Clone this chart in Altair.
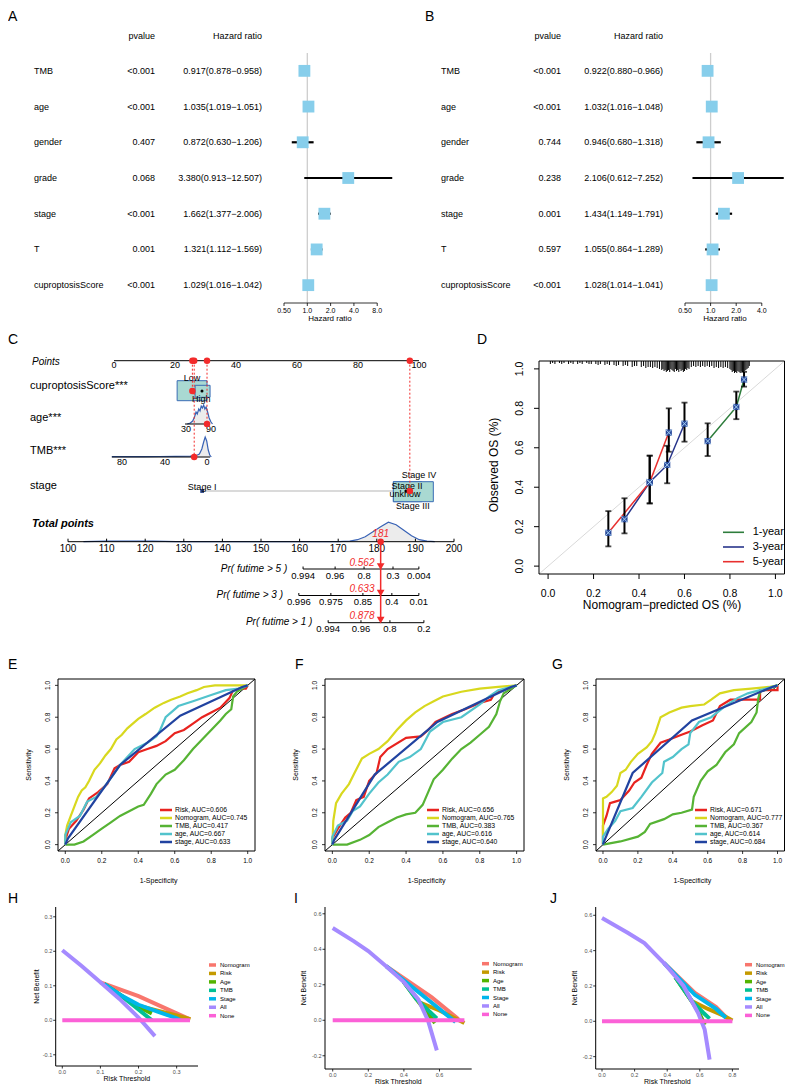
import altair as alt
import pandas as pd

FONT = "Liberation Sans"
RED = "#F22B2B"
OFF = 8  # page margin: reference pixel -> canvas pixel

# ======================= A / B : forest plots =======================
forest_vars = ["TMB", "age", "gender", "grade", "stage", "T", "cuproptosisScore"]
A_pvalue = ["<0.001", "<0.001", "0.407", "0.068", "<0.001", "0.001", "<0.001"]
A_hr = [0.917, 1.035, 0.872, 3.380, 1.662, 1.321, 1.029]
A_lo = [0.878, 1.019, 0.630, 0.913, 1.377, 1.112, 1.016]
A_hi = [0.958, 1.051, 1.206, 12.507, 2.006, 1.569, 1.042]
A_ticks = [0.5, 1, 2, 4, 8]
A_tick_labels = ["0.50", "1.0", "2.0", "4.0", "8.0"]
B_pvalue = ["<0.001", "<0.001", "0.744", "0.238", "0.001", "0.597", "<0.001"]
B_hr = [0.922, 1.032, 0.946, 2.106, 1.434, 1.055, 1.028]
B_lo = [0.880, 1.016, 0.680, 0.612, 1.149, 0.864, 1.014]
B_hi = [0.966, 1.048, 1.318, 7.252, 1.791, 1.289, 1.041]
B_ticks = [0.5, 1, 2, 4]
B_tick_labels = ["0.50", "1.0", "2.0", "4.0"]

# ======================= C : nomogram =======================
points_ticks = [0, 20, 40, 60, 80, 100]
nomo_vars = ["cuproptosisScore***", "age***", "TMB***", "stage"]
nomo_var_y = [386, 418, 451, 486]
cupro_box_x1 = [20.7, 26.6]
cupro_box_x2 = [30.5, 31.5]
cupro_box_y1 = [380.7, 385.3]
cupro_box_y2 = [400.7, 397.3]
cupro_levels = ["Low", "High"]
cupro_level_pts = [25.6, 28.6]
cupro_level_y = [378, 399]
age_ticks = ["30", "90"]
age_tick_pts = [23.6, 31.8]
age_dens_pts = [24.0, 25.0, 25.8, 26.4, 26.9, 27.3, 27.8, 28.2, 28.6, 29.0, 29.4, 29.8, 30.2, 30.7, 31.2, 31.8, 32.3]
age_dens_h = [0, 1, 3, 7, 12, 10, 15, 13, 18, 16, 19, 15, 17, 12, 6, 2, 0]
tmb_ticks = ["80", "40", "0"]
tmb_tick_pts = [2.6, 16.7, 30.5]
tmb_dens_pts = [-0.7, 5, 10, 15, 20, 25, 27, 28, 28.8, 29.4, 29.9, 30.4, 30.9, 31.4, 31.9]
tmb_dens_h = [0.4, 0.4, 0.4, 0.5, 0.6, 0.8, 1.5, 3, 8, 15, 20, 16, 7, 2, 0]
stage_levels = ["Stage I", "Stage II", "unknow", "Stage III", "Stage IV"]
stage_level_pts = [28.9, 96.1, 95.4, 98.0, 100.0]
stage_label_y = [486.7, 486, 494, 505.5, 475]
stage_box_x1 = [91.6, 91.6]
stage_box_x2 = [100.9, 104.7]
selected_pts = [25.7, 30.5, 26.3, 97.0]
selected_y = [391, 424, 457, 491]
total_ticks = [100, 110, 120, 130, 140, 150, 160, 170, 180, 190, 200]
total_dens_x = [104, 110, 116, 122, 128, 140, 160, 170, 173, 175, 177, 179, 181, 183, 185, 187, 189, 191, 193, 195]
total_dens_h = [0, 0.6, 0.6, 0.5, 0, 0, 0, 0, 0.6, 2, 5, 10, 15, 19.5, 17, 11.5, 6, 2, 0.5, 0]
total_selected = 181
pr_names = ["Pr( futime > 5 )", "Pr( futime > 3 )", "Pr( futime > 1 )"]
pr_y = [569, 595.5, 622.7]
pr_labels = [["0.994", "0.96", "0.8", "0.3", "0.004"],
             ["0.996", "0.975", "0.85", "0.4", "0.01"],
             ["0.994", "0.96", "0.8", "0.2"]]
pr_tp = [[160.9, 169.2, 176.7, 184.2, 190.9],
         [159.8, 168.1, 176.4, 183.9, 190.9],
         [167.4, 175.9, 183.4, 192.2]]
pr_selected = ["0.562", "0.633", "0.878"]

# ======================= D : calibration =======================
cal_names = ["1-year", "3-year", "5-year"]
cal_colors = ["#2E7D3C", "#27348B", "#E8302F"]
cal_series = ["1-year"] * 3 + ["3-year"] * 4 + ["5-year"] * 3
cal_pred = [0.702, 0.828, 0.862, 0.336, 0.447, 0.524, 0.600, 0.265, 0.447, 0.531]
cal_obs = [0.634, 0.807, 0.946, 0.238, 0.425, 0.513, 0.722, 0.169, 0.425, 0.677]
cal_lo = [0.558, 0.745, 0.910, 0.166, 0.318, 0.420, 0.631, 0.100, 0.318, 0.580]
cal_hi = [0.724, 0.885, 0.985, 0.344, 0.560, 0.610, 0.829, 0.279, 0.560, 0.800]
rug_x = [0.01, 0.02, 0.03, 0.05, 0.06, 0.07, 0.09, 0.10, 0.11, 0.13, 0.14, 0.15, 0.17, 0.18, 0.19,
         0.21, 0.22, 0.23, 0.25, 0.26, 0.27, 0.29, 0.30, 0.31, 0.33, 0.34, 0.35, 0.37, 0.38, 0.39,
         0.41, 0.42, 0.43, 0.44, 0.45, 0.46, 0.47, 0.48, 0.49,
         0.500, 0.505, 0.510, 0.515, 0.520, 0.525, 0.530, 0.535, 0.540, 0.545, 0.550, 0.555, 0.560,
         0.565, 0.570, 0.575, 0.580, 0.585, 0.590, 0.595, 0.600, 0.605, 0.610, 0.615, 0.620, 0.630,
         0.64, 0.65, 0.66, 0.67, 0.68, 0.69, 0.70, 0.71, 0.72, 0.73, 0.74, 0.75, 0.76, 0.77, 0.78, 0.79,
         0.800, 0.805, 0.810, 0.815, 0.820, 0.825, 0.830, 0.835, 0.840, 0.845, 0.850, 0.855, 0.860,
         0.865, 0.870, 0.875, 0.880, 0.885]
rug_len = [3, 2, 3, 2, 3, 2, 3, 2, 3, 3, 2, 3, 2, 3, 3,
           3, 4, 3, 4, 3, 4, 4, 5, 4, 5, 4, 5, 6, 5, 5,
           6, 5, 7, 6, 6, 7, 6, 7, 8,
           9, 8, 10, 9, 11, 10, 9, 11, 8, 9, 10, 11, 8,
           10, 9, 11, 8, 10, 9, 11, 10, 8, 9, 7, 8, 6,
           5, 6, 5, 6, 5, 6, 5, 6, 5, 7, 6, 7, 6, 7, 6, 7,
           8, 9, 11, 10, 12, 11, 12, 10, 11, 12, 10, 11, 12,
           10, 9, 8, 7, 5]
unit_ticks = [0, 0.2, 0.4, 0.6, 0.8, 1.0]
unit_tick_labels = ["0.0", "0.2", "0.4", "0.6", "0.8", "1.0"]

# ======================= E / F / G : ROC =======================
roc_colors = ["#E8231F", "#D8D81E", "#56B334", "#52C3CC", "#2143A0"]
E_labels = ["Risk, AUC=0.606", "Nomogram, AUC=0.745", "TMB, AUC=0.417", "age, AUC=0.667", "stage, AUC=0.633"]
E_risk = ([0, 0.0, 0.02, 0.06, 0.10, 0.13, 0.18, 0.23, 0.27, 0.30, 0.35, 0.40, 0.45, 0.50, 0.55, 0.60, 0.65, 0.70, 0.75, 0.80, 0.85, 0.90, 0.92, 0.96, 0.99, 1.0],
          [0, 0.03, 0.10, 0.15, 0.22, 0.29, 0.33, 0.38, 0.48, 0.50, 0.52, 0.58, 0.60, 0.62, 0.65, 0.70, 0.72, 0.76, 0.80, 0.83, 0.86, 0.92, 0.97, 0.98, 0.98, 1.0])
E_nomo = ([0, 0.0, 0.01, 0.03, 0.05, 0.07, 0.09, 0.11, 0.13, 0.16, 0.19, 0.22, 0.25, 0.28, 0.31, 0.34, 0.37, 0.40, 0.44, 0.49, 0.54, 0.58, 0.63, 0.67, 0.72, 0.76, 0.82, 0.90, 1.0],
          [0, 0.06, 0.12, 0.18, 0.24, 0.30, 0.34, 0.36, 0.40, 0.47, 0.51, 0.56, 0.60, 0.66, 0.69, 0.73, 0.76, 0.79, 0.82, 0.86, 0.89, 0.91, 0.93, 0.95, 0.97, 0.99, 1.0, 1.0, 1.0])
E_tmb = ([0, 0.05, 0.10, 0.15, 0.20, 0.25, 0.30, 0.35, 0.40, 0.43, 0.47, 0.50, 0.55, 0.60, 0.65, 0.70, 0.75, 0.80, 0.85, 0.88, 0.91, 0.92, 0.94, 0.97, 1.0],
         [0, 0.0, 0.02, 0.06, 0.10, 0.14, 0.18, 0.21, 0.24, 0.25, 0.32, 0.38, 0.44, 0.47, 0.53, 0.60, 0.66, 0.72, 0.78, 0.82, 0.85, 0.93, 0.96, 0.98, 1.0])
E_age = ([0, 0.0, 0.03, 0.08, 0.12, 0.17, 0.22, 0.27, 0.30, 0.38, 0.45, 0.50, 0.52, 0.55, 0.59, 0.62, 0.70, 0.80, 0.88, 0.95, 1.0],
         [0, 0.06, 0.14, 0.18, 0.27, 0.30, 0.37, 0.45, 0.50, 0.60, 0.64, 0.68, 0.72, 0.80, 0.84, 0.87, 0.90, 0.94, 0.97, 0.98, 1.0])
E_stage = ([0, 0.015, 0.30, 0.63, 0.97, 1.0], [0, 0.04, 0.50, 0.81, 0.99, 1.0])

F_labels = ["Risk, AUC=0.656", "Nomogram, AUC=0.765", "TMB, AUC=0.383", "age, AUC=0.616", "stage, AUC=0.640"]
F_risk = ([0, 0.0, 0.03, 0.07, 0.10, 0.13, 0.17, 0.20, 0.24, 0.26, 0.30, 0.40, 0.48, 0.52, 0.56, 0.65, 0.72, 0.80, 0.86, 0.88, 0.95, 1.0],
          [0, 0.04, 0.10, 0.17, 0.20, 0.28, 0.30, 0.40, 0.45, 0.55, 0.60, 0.67, 0.68, 0.72, 0.77, 0.82, 0.85, 0.89, 0.91, 0.95, 0.98, 1.0])
F_nomo = ([0, 0.005, 0.02, 0.05, 0.09, 0.12, 0.16, 0.20, 0.25, 0.30, 0.35, 0.40, 0.45, 0.50, 0.55, 0.60, 0.70, 0.80, 0.90, 1.0],
          [0, 0.15, 0.26, 0.32, 0.38, 0.45, 0.54, 0.57, 0.60, 0.65, 0.72, 0.78, 0.83, 0.87, 0.90, 0.93, 0.96, 0.98, 0.99, 1.0])
F_tmb = ([0, 0.08, 0.15, 0.20, 0.25, 0.30, 0.35, 0.40, 0.45, 0.49, 0.52, 0.55, 0.60, 0.65, 0.70, 0.75, 0.80, 0.85, 0.89, 0.91, 0.93, 1.0],
         [0, 0.0, 0.03, 0.06, 0.11, 0.14, 0.17, 0.19, 0.20, 0.25, 0.33, 0.41, 0.47, 0.54, 0.60, 0.64, 0.69, 0.74, 0.82, 0.90, 0.95, 1.0])
F_age = ([0, 0.0, 0.03, 0.08, 0.11, 0.15, 0.20, 0.25, 0.30, 0.36, 0.42, 0.48, 0.53, 0.60, 0.70, 0.80, 0.85, 0.90, 1.0],
         [0, 0.05, 0.12, 0.15, 0.21, 0.24, 0.32, 0.39, 0.44, 0.52, 0.55, 0.60, 0.71, 0.77, 0.80, 0.88, 0.93, 0.97, 1.0])
F_stage = ([0, 0.01, 0.23, 0.57, 0.97, 1.0], [0, 0.03, 0.44, 0.77, 0.99, 1.0])

G_labels = ["Risk, AUC=0.671", "Nomogram, AUC=0.777", "TMB, AUC=0.367", "age, AUC=0.614", "stage, AUC=0.684"]
G_risk = ([0, 0.0, 0.02, 0.04, 0.07, 0.10, 0.15, 0.18, 0.22, 0.25, 0.28, 0.33, 0.38, 0.45, 0.50, 0.57, 0.63, 0.67, 0.73, 0.90, 0.90, 1.0, 1.0],
          [0, 0.12, 0.18, 0.26, 0.27, 0.28, 0.34, 0.39, 0.42, 0.50, 0.57, 0.64, 0.66, 0.69, 0.71, 0.75, 0.78, 0.87, 0.91, 0.91, 0.97, 0.97, 1.0])
G_nomo = ([0, 0.0, 0.02, 0.05, 0.08, 0.10, 0.13, 0.16, 0.20, 0.25, 0.28, 0.30, 0.33, 0.38, 0.45, 0.50, 0.58, 0.62, 0.67, 0.75, 0.85, 0.95, 1.0],
          [0, 0.29, 0.30, 0.33, 0.37, 0.45, 0.47, 0.52, 0.57, 0.61, 0.65, 0.70, 0.80, 0.83, 0.86, 0.87, 0.88, 0.91, 0.95, 0.97, 0.98, 0.99, 1.0])
G_tmb = ([0, 0.10, 0.20, 0.24, 0.27, 0.35, 0.40, 0.45, 0.51, 0.52, 0.56, 0.60, 0.65, 0.70, 0.75, 0.78, 0.85, 0.88, 0.89, 0.90, 1.0],
         [0, 0.02, 0.05, 0.08, 0.13, 0.16, 0.19, 0.20, 0.22, 0.30, 0.40, 0.46, 0.50, 0.58, 0.63, 0.70, 0.77, 0.83, 0.92, 0.96, 1.0])
G_age = ([0, 0.0, 0.03, 0.07, 0.10, 0.17, 0.22, 0.28, 0.34, 0.35, 0.40, 0.45, 0.49, 0.50, 0.55, 0.62, 0.70, 0.77, 0.83, 0.90, 1.0],
         [0, 0.05, 0.10, 0.15, 0.21, 0.23, 0.30, 0.39, 0.45, 0.52, 0.55, 0.60, 0.63, 0.70, 0.77, 0.80, 0.87, 0.92, 0.95, 0.97, 1.0])
G_stage = ([0, 0.01, 0.17, 0.51, 0.97, 1.0], [0, 0.03, 0.45, 0.78, 0.99, 1.0])

# ======================= H / I / J : decision curves =======================
dca_names = ["Nomogram", "Risk", "Age", "TMB", "Stage", "All", "None"]
dca_colors = ["#F8766D", "#C49A00", "#53B400", "#00C094", "#00B6EB", "#A58AFF", "#FB61D7"]
H_curves = {
    "Nomogram": ([0.10, 0.20, 0.30, 0.335], [0.11, 0.07, 0.02, 0.003]),
    "Risk": ([0.11, 0.15, 0.19, 0.25, 0.30, 0.336], [0.105, 0.075, 0.045, 0.028, 0.014, 0.003]),
    "Age": ([0.11, 0.15, 0.19, 0.235], [0.105, 0.075, 0.045, 0.02]),
    "TMB": ([0.11, 0.15, 0.19, 0.235], [0.105, 0.075, 0.04, 0.0]),
    "Stage": ([0.11, 0.15, 0.20, 0.25, 0.30, 0.31], [0.105, 0.075, 0.045, 0.025, 0.006, 0.0]),
    "All": ([0.0, 0.05, 0.10, 0.15, 0.20, 0.243], [0.203, 0.158, 0.11, 0.062, 0.008, -0.046]),
    "None": ([0.0, 0.335], [0.0, 0.0]),
}
H_xticks, H_yticks = [0, 0.1, 0.2, 0.3], [-0.1, 0, 0.1, 0.2, 0.3]
I_curves = {
    "Nomogram": ([0.30, 0.555, 0.706], [0.305, 0.13, 0.007]),
    "Risk": ([0.40, 0.49, 0.60, 0.74], [0.215, 0.10, 0.055, -0.015]),
    "Age": ([0.40, 0.47, 0.575], [0.215, 0.12, -0.015]),
    "TMB": ([0.40, 0.47, 0.585], [0.215, 0.12, 0.01]),
    "Stage": ([0.30, 0.40, 0.555, 0.69], [0.305, 0.225, 0.10, -0.01]),
    "All": ([0.0, 0.12, 0.20, 0.30, 0.40, 0.48, 0.535, 0.585], [0.52, 0.445, 0.39, 0.305, 0.215, 0.12, 0.0, -0.17]),
    "None": ([0.0, 0.74], [0.0, 0.0]),
}
I_xticks, I_yticks = [0, 0.2, 0.4, 0.6], [-0.2, 0, 0.2, 0.4, 0.6]
J_curves = {
    "Nomogram": ([0.38, 0.57, 0.70, 0.775], [0.33, 0.16, 0.08, 0.01]),
    "Risk": ([0.45, 0.55, 0.65, 0.75, 0.80], [0.25, 0.115, 0.07, 0.03, 0.005]),
    "Age": ([0.45, 0.55, 0.60, 0.63], [0.25, 0.115, 0.04, -0.02]),
    "TMB": ([0.45, 0.55, 0.62, 0.66], [0.25, 0.115, 0.05, 0.015]),
    "Stage": ([0.38, 0.57, 0.70, 0.76], [0.33, 0.15, 0.07, 0.02]),
    "All": ([0.0, 0.16, 0.26, 0.38, 0.50, 0.59, 0.63, 0.66], [0.585, 0.50, 0.443, 0.33, 0.20, 0.047, -0.047, -0.217]),
    "None": ([0.0, 0.80], [0.0, 0.0]),
}
J_xticks, J_yticks = [0, 0.2, 0.4, 0.6, 0.8], [-0.2, 0, 0.2, 0.4, 0.6]


# ---------------------------------------------------------------------------
def P(v):
    return v - OFF


def sc(domain, r0, r1, log=False):
    if log:
        return alt.Scale(type="log", domain=domain, range=[P(r0), P(r1)], nice=False)
    return alt.Scale(domain=domain, range=[P(r0), P(r1)], nice=False, zero=False)


def QX(f, s):
    return alt.X(f, type="quantitative", scale=s, axis=None)


def QY(f, s):
    return alt.Y(f, type="quantitative", scale=s, axis=None)


def label(text, x, y, size, align="center", baseline="middle", angle=None, style=None, weight=None,
          color="black"):
    kw = dict(align=align, baseline=baseline, fontSize=size, color=color)
    if angle is not None:
        kw["angle"] = angle
    if style:
        kw["fontStyle"] = style
    if weight:
        kw["fontWeight"] = weight
    return alt.Chart(pd.DataFrame({"t": [text]})).mark_text(**kw).encode(
        x=alt.value(P(x)), y=alt.value(P(y)), text="t:N")


def letter(t, x, y):
    return label(t, x, y, 14, align="left", baseline="top")


def hline(x0, x1, y, color="black", w=1.0):
    return alt.Chart(pd.DataFrame({"a": [0]})).mark_rule(color=color, strokeWidth=w).encode(
        x=alt.value(P(x0)), x2=alt.value(P(x1)), y=alt.value(P(y)))


def vline(x, y0, y1, color="black", w=1.0):
    return alt.Chart(pd.DataFrame({"a": [0]})).mark_rule(color=color, strokeWidth=w).encode(
        x=alt.value(P(x)), y=alt.value(P(y0)), y2=alt.value(P(y1)))


def frame(l, r, t, b):
    return alt.Chart(pd.DataFrame({"a": [0]})).mark_rect(fillOpacity=0, stroke="black", strokeWidth=1).encode(
        x=alt.value(P(l)), x2=alt.value(P(r)), y=alt.value(P(t)), y2=alt.value(P(b)))


def legend_block(names, labels, colors, kx0, kx1, tx, y0, dy, kw, font):
    n = len(names)
    df = pd.DataFrame({"k": list(range(n)), "name": names, "lab": labels})
    Y = QY("k", sc([0, n - 1], y0, y0 + (n - 1) * dy))
    col = alt.Color("name:N", scale=alt.Scale(domain=names, range=colors), legend=None)
    keys = alt.Chart(df).mark_rule(strokeWidth=kw).encode(
        x=alt.value(P(kx0)), x2=alt.value(P(kx1)), y=Y, color=col)
    txt = alt.Chart(df).mark_text(align="left", baseline="middle", fontSize=font).encode(
        x=alt.value(P(tx)), y=Y, text="lab:N")
    return alt.layer(keys, txt)


# ---------------------------------------------------------------------------
def forest(pv, hr, lo, hi, ticks, tick_labels, dmax, x0, x1, cols, title_x):
    top, bot = 53, 303
    xs = sc([0.5, dmax], x0, x1, log=True)
    ys = sc([-0.5, 6.5], top, bot)
    Y = QY("row", ys)
    df = pd.DataFrame({
        "row": list(range(len(forest_vars))), "var": forest_vars, "p": pv,
        "hr": hr, "lo": lo, "hi": hi,
        "txt": [f"{a:.3f}({b:.3f}\u2212{c:.3f})" for a, b, c in zip(hr, lo, hi)],
    })
    tdf = pd.DataFrame({"v": ticks, "lab": tick_labels})
    base = alt.Chart(df)
    layers = [
        alt.Chart(pd.DataFrame({"v": [1.0]})).mark_rule(color="#CDCDCD", strokeWidth=1.3).encode(
            x=QX("v", xs), y=alt.value(P(top)), y2=alt.value(P(bot))),
        alt.Chart(pd.DataFrame({"a": [ticks[0]], "b": [ticks[-1]]})).mark_rule(
            color="black", strokeWidth=0.8).encode(x=QX("a", xs), x2="b", y=alt.value(P(bot))),
        alt.Chart(tdf).mark_rule(color="black", strokeWidth=0.8).encode(
            x=QX("v", xs), y=alt.value(P(bot)), y2=alt.value(P(bot + 3))),
        alt.Chart(tdf).mark_text(fontSize=7, baseline="middle").encode(
            x=QX("v", xs), y=alt.value(P(bot + 7.5)), text="lab:N"),
        base.mark_rule(color="black", strokeWidth=2.2).encode(x=QX("lo", xs), x2="hi", y=Y),
        base.mark_square(size=140, color="#87CEEB", opacity=1).encode(x=QX("hr", xs), y=Y),
        base.mark_text(align="left", baseline="middle", fontSize=9).encode(
            x=alt.value(P(cols["var"])), y=Y, text="var:N"),
        base.mark_text(align="right", baseline="middle", fontSize=9).encode(
            x=alt.value(P(cols["p"])), y=Y, text="p:N"),
        base.mark_text(align="right", baseline="middle", fontSize=9).encode(
            x=alt.value(P(cols["hr"])), y=Y, text="txt:N"),
        label("pvalue", cols["p"], 36, 9, align="right"),
        label("Hazard ratio", cols["hr"], 36, 9, align="right"),
        label("Hazard ratio", title_x, 318.5, 8),
    ]
    return alt.layer(*layers)


# ---------------------------------------------------------------------------
PXs = sc([-15.08, 111.48], 68, 454)
TXs = sc([100, 200], 68, 454)
PYs = sc([0, 1092], 0, 1092)


def PX(f):
    return QX(f, PXs)


def TX(f):
    return QX(f, TXs)


def PY(f):
    return QY(f, PYs)


def density(xs, hs, base_y, X):
    df = pd.DataFrame({"x": xs, "top": [base_y - h for h in hs], "base": base_y, "i": list(range(len(xs)))})
    area = alt.Chart(df).mark_area(color="#ECECEC", opacity=1).encode(x=X("x"), y=PY("top"), y2="base")
    line = alt.Chart(df).mark_line(color="#3862B5", strokeWidth=1.2).encode(x=X("x"), y=PY("top"), order="i:Q")
    return [area, line]


def C_panel():
    L = []
    L.append(alt.Chart(pd.DataFrame({"a": [points_ticks[0]], "b": [points_ticks[-1]], "y": [360.7]}))
             .mark_rule(color="black", strokeWidth=1).encode(x=PX("a"), x2="b", y=PY("y")))
    L.append(alt.Chart(pd.DataFrame({"v": points_ticks, "t": [str(v) for v in points_ticks], "y": 364.5}))
             .mark_text(fontSize=9, baseline="middle").encode(x=PX("v"), y=PY("y"), text="t:N"))
    L.append(alt.Chart(pd.DataFrame({"t": nomo_vars, "y": nomo_var_y})).mark_text(
        align="left", baseline="middle", fontSize=11).encode(x=alt.value(P(30)), y=PY("y"), text="t:N"))
    L.append(alt.Chart(pd.DataFrame({"x1": cupro_box_x1, "x2": cupro_box_x2, "y1": cupro_box_y1, "y2": cupro_box_y2}))
             .mark_rect(fill="#A9D9D2", stroke="#3A6DB5", strokeWidth=1, opacity=1)
             .encode(x=PX("x1"), x2="x2", y=PY("y1"), y2="y2"))
    L.append(alt.Chart(pd.DataFrame({"x": cupro_level_pts, "t": cupro_levels, "y": cupro_level_y}))
             .mark_text(fontSize=9, baseline="middle").encode(x=PX("x"), y=PY("y"), text="t:N"))
    L += density(age_dens_pts, age_dens_h, 424, PX)
    L.append(alt.Chart(pd.DataFrame({"a": [23.3], "b": [31.5], "y": [424]}))
             .mark_rule(color="black", strokeWidth=1).encode(x=PX("a"), x2="b", y=PY("y")))
    L.append(alt.Chart(pd.DataFrame({"x": age_tick_pts, "t": age_ticks, "y": 428.5}))
             .mark_text(fontSize=9, baseline="middle").encode(x=PX("x"), y=PY("y"), text="t:N"))
    L += density(tmb_dens_pts, tmb_dens_h, 457, PX)
    L.append(alt.Chart(pd.DataFrame({"a": [-0.7], "b": [31.5], "y": [457]}))
             .mark_rule(color="black", strokeWidth=1).encode(x=PX("a"), x2="b", y=PY("y")))
    L.append(alt.Chart(pd.DataFrame({"x": tmb_tick_pts, "t": tmb_ticks, "y": 462}))
             .mark_text(fontSize=9, baseline="middle").encode(x=PX("x"), y=PY("y"), text="t:N"))
    L.append(alt.Chart(pd.DataFrame({"a": [stage_level_pts[0]], "b": [stage_box_x1[0]], "y": [491]}))
             .mark_rule(color="#B5B5B5", strokeWidth=1).encode(x=PX("a"), x2="b", y=PY("y")))
    L.append(alt.Chart(pd.DataFrame({"x1": stage_box_x1, "x2": stage_box_x2, "y1": 481.7, "y2": 501.7}))
             .mark_rect(fill="#A9D9D2", stroke="#3A6DB5", strokeWidth=1, opacity=1)
             .encode(x=PX("x1"), x2="x2", y=PY("y1"), y2="y2"))
    L.append(alt.Chart(pd.DataFrame({"x": [stage_level_pts[0]], "y": [491]}))
             .mark_square(size=14, color="#1F3A80", opacity=1).encode(x=PX("x"), y=PY("y")))
    L.append(alt.Chart(pd.DataFrame({"x": stage_level_pts, "t": stage_levels, "y": stage_label_y}))
             .mark_text(fontSize=9, baseline="middle").encode(x=PX("x"), y=PY("y"), text="t:N"))
    L.append(alt.Chart(pd.DataFrame({"x": [28.85, 95.7], "y": [391, 491]}))
             .mark_circle(size=9, color="black", opacity=1).encode(x=PX("x"), y=PY("y")))
    sel = pd.DataFrame({"x": selected_pts, "y0": 360.7, "y1": selected_y})
    L.append(alt.Chart(sel).mark_rule(color=RED, strokeWidth=1, strokeDash=[2, 2]).encode(
        x=PX("x"), y=PY("y0"), y2="y1"))
    L.append(alt.Chart(sel).mark_circle(size=42, color=RED, opacity=1).encode(x=PX("x"), y=PY("y0")))
    L.append(alt.Chart(sel).mark_circle(size=42, color=RED, opacity=1).encode(x=PX("x"), y=PY("y1")))

    T = []
    T += density(total_dens_x, total_dens_h, 541.7, TX)
    T.append(alt.Chart(pd.DataFrame({"a": [total_ticks[0]], "b": [total_ticks[-1]], "y": [541.7]}))
             .mark_rule(color="black", strokeWidth=1).encode(x=TX("a"), x2="b", y=PY("y")))
    T.append(alt.Chart(pd.DataFrame({"x": total_ticks, "y0": 538.7, "y1": 541.7}))
             .mark_rule(color="black", strokeWidth=1).encode(x=TX("x"), y=PY("y0"), y2="y1"))
    T.append(alt.Chart(pd.DataFrame({"x": total_ticks, "t": [str(v) for v in total_ticks], "y": 548.7}))
             .mark_text(fontSize=10, baseline="middle").encode(x=TX("x"), y=PY("y"), text="t:N"))
    rows, ends = [], []
    for k in range(3):
        for lab, tpv in zip(pr_labels[k], pr_tp[k]):
            rows.append({"x": tpv, "t": lab, "y": pr_y[k], "yt": pr_y[k] - 2.5, "yl": pr_y[k] + 6.5})
        ends.append({"a": pr_tp[k][0], "b": pr_tp[k][-1], "y": pr_y[k], "name": pr_names[k], "yn": pr_y[k] - 0.5})
    prdf, endf = pd.DataFrame(rows), pd.DataFrame(ends)
    T.append(alt.Chart(endf).mark_rule(color="black", strokeWidth=1).encode(x=TX("a"), x2="b", y=PY("y")))
    T.append(alt.Chart(prdf).mark_rule(color="black", strokeWidth=1).encode(x=TX("x"), y=PY("yt"), y2="y"))
    T.append(alt.Chart(prdf).mark_text(fontSize=9.5, baseline="middle").encode(x=TX("x"), y=PY("yl"), text="t:N"))
    T.append(alt.Chart(endf).transform_calculate(xr="datum.a - 4.1").mark_text(
        align="right", baseline="middle", fontSize=10, fontStyle="italic").encode(
        x=TX("xr"), y=PY("yn"), text="name:N"))
    T.append(alt.Chart(pd.DataFrame({"x": [total_selected], "y0": 541.7, "y1": 620}))
             .mark_rule(color=RED, strokeWidth=1.5).encode(x=TX("x"), y=PY("y0"), y2="y1"))
    T.append(alt.Chart(pd.DataFrame({"x": total_selected, "y": [v - 2.5 for v in pr_y]}))
             .mark_point(shape="triangle-down", filled=True, size=60, color=RED, opacity=1)
             .encode(x=TX("x"), y=PY("y")))
    T.append(alt.Chart(pd.DataFrame({"x": [total_selected], "y": [541.7]}))
             .mark_circle(size=42, color=RED, opacity=1).encode(x=TX("x"), y=PY("y")))
    T.append(alt.Chart(pd.DataFrame({"x": [total_selected], "t": [str(total_selected)], "y": [534]}))
             .mark_text(fontSize=10, fontStyle="italic", color=RED, baseline="middle").encode(
        x=TX("x"), y=PY("y"), text="t:N"))
    T.append(alt.Chart(pd.DataFrame({"x": total_selected - 1.6, "t": pr_selected, "y": [v - 6.3 for v in pr_y]}))
             .mark_text(fontSize=10, fontStyle="italic", color=RED, baseline="middle", align="right").encode(
        x=TX("x"), y=PY("y"), text="t:N"))

    texts = [
        label("Points", 32, 362, 10, align="left", style="italic"),
        label("Total points", 32, 524, 11, align="left", style="italic", weight="bold"),
    ]
    return alt.layer(alt.layer(*L), alt.layer(*T), *texts).resolve_scale(x="independent")


# ---------------------------------------------------------------------------
def D_panel():
    l, r, t, b = 539, 784.5, 361, 574
    xs = sc([-0.04, 1.04], l, r)
    ys = sc([-0.04, 1.04], b, t)
    tdf = pd.DataFrame({"v": unit_ticks, "lab": unit_tick_labels})
    cal = pd.DataFrame({"series": cal_series, "pred": cal_pred, "obs": cal_obs, "lo": cal_lo, "hi": cal_hi,
                        "i": list(range(len(cal_pred)))})
    layers = [
        alt.Chart(pd.DataFrame({"d": [-0.04, 1.04]})).mark_line(color="#D9D9D9", strokeWidth=1).encode(
            x=QX("d", xs), y=QY("d", ys)),
        alt.Chart(pd.DataFrame({"rx": rug_x, "len": rug_len})).transform_calculate(
            top="1.04", bot="1.04 - datum.len * 0.00507").mark_rule(color="black", strokeWidth=1).encode(
            x=QX("rx", xs), y=QY("top", ys), y2="bot"),
        alt.Chart(cal).mark_line(strokeWidth=1.5).encode(
            x=QX("pred", xs), y=QY("obs", ys),
            color=alt.Color("series:N", scale=alt.Scale(domain=cal_names, range=cal_colors), legend=None),
            order="i:Q"),
        alt.Chart(cal).mark_rule(color="black", strokeWidth=2).encode(x=QX("pred", xs), y=QY("lo", ys), y2="hi"),
        alt.Chart(cal).mark_tick(orient="horizontal", size=6, thickness=1.8, color="black").encode(
            x=QX("pred", xs), y=QY("lo", ys)),
        alt.Chart(cal).mark_tick(orient="horizontal", size=6, thickness=1.8, color="black").encode(
            x=QX("pred", xs), y=QY("hi", ys)),
        alt.Chart(cal).mark_point(shape="square", filled=True, size=38, color="#28489A", opacity=1).encode(
            x=QX("pred", xs), y=QY("obs", ys)),
        alt.Chart(cal).mark_point(shape="M-1,-1L1,1M-1,1L1,-1", filled=False, size=38, color="#A6D1F2",
                                  strokeWidth=1, opacity=1).encode(x=QX("pred", xs), y=QY("obs", ys)),
        alt.Chart(tdf).mark_rule(color="black", strokeWidth=1).encode(
            x=QX("v", xs), y=alt.value(P(b)), y2=alt.value(P(b + 5))),
        alt.Chart(tdf).mark_text(fontSize=10.5, baseline="middle").encode(
            x=QX("v", xs), y=alt.value(P(594)), text="lab:N"),
        alt.Chart(tdf).mark_rule(color="black", strokeWidth=1).encode(
            y=QY("v", ys), x=alt.value(P(l - 5)), x2=alt.value(P(l))),
        alt.Chart(tdf).mark_text(fontSize=10.5, baseline="middle", angle=270).encode(
            y=QY("v", ys), x=alt.value(P(520)), text="lab:N"),
        frame(l, r, t, b),
        label("Nomogram\u2212predicted OS (%)", 662, 605, 12),
        label("Observed OS (%)", 494, 465, 12, angle=270),
    ]
    return alt.layer(*layers)


# ---------------------------------------------------------------------------
def roc_panel(labels, curves, l, r, leg_dx):
    t, b = 679, 851
    xs = sc([-0.04, 1.04], l, r)
    ys = sc([-0.04, 1.04], b, t)
    rows = []
    for lab, (xv, yv) in zip(labels, curves):
        for i, (a, c) in enumerate(zip(xv, yv)):
            rows.append({"s": lab, "x": a, "y": c, "i": i})
    df = pd.DataFrame(rows)
    tdf = pd.DataFrame({"v": unit_ticks, "lab": unit_tick_labels})
    mid = (l + r) / 2
    layers = [
        alt.Chart(pd.DataFrame({"d": [-0.04, 1.04]})).mark_line(color="black", strokeWidth=1).encode(
            x=QX("d", xs), y=QY("d", ys)),
        alt.Chart(df).mark_line(strokeWidth=2.2).encode(
            x=QX("x", xs), y=QY("y", ys),
            color=alt.Color("s:N", scale=alt.Scale(domain=labels, range=roc_colors), legend=None),
            order="i:Q"),
        alt.Chart(tdf).mark_rule(color="black", strokeWidth=0.8).encode(
            x=QX("v", xs), y=alt.value(P(b)), y2=alt.value(P(b + 3))),
        alt.Chart(tdf).mark_text(fontSize=6.5, baseline="middle").encode(
            x=QX("v", xs), y=alt.value(P(860.7)), text="lab:N"),
        alt.Chart(tdf).mark_rule(color="black", strokeWidth=0.8).encode(
            y=QY("v", ys), x=alt.value(P(l - 3)), x2=alt.value(P(l))),
        alt.Chart(tdf).mark_text(fontSize=6.5, baseline="middle", angle=270).encode(
            y=QY("v", ys), x=alt.value(P(l - 10.5)), text="lab:N"),
        frame(l, r, t, b),
        label("1-Specificity", mid + 2, 880.7, 7),
        label("Sensitivity", l - 29, 765, 7, angle=270),
    ]
    kx = l + leg_dx
    leg = legend_block(labels, labels, roc_colors, kx, kx + 12, kx + 15, 810, 8, 2.5, 6.8)
    return [alt.layer(*layers), leg]


# ---------------------------------------------------------------------------
def dca_panel(curves, xdom, ydom, xt, yt, l, r, t, b, ytitle_x, leg, leg_font=6):
    xs = sc(xdom, l, r)
    ys = sc(ydom, b, t)
    rows = []
    for name in dca_names:
        xv, yv = curves[name]
        for i, (a, c) in enumerate(zip(xv, yv)):
            rows.append({"name": name, "t": a, "nb": c, "i": i})
    df = pd.DataFrame(rows)
    xdf = pd.DataFrame({"v": xt, "lab": [f"{v:.1f}" for v in xt]})
    ydf = pd.DataFrame({"v": yt, "lab": [f"{v:.1f}" for v in yt]})
    layers = [
        alt.Chart(df).mark_line(strokeWidth=4).encode(
            x=QX("t", xs), y=QY("nb", ys),
            color=alt.Color("name:N", scale=alt.Scale(domain=dca_names, range=dca_colors), legend=None),
            order="i:Q"),
        hline(l, r, b),
        vline(l, t, b),
        alt.Chart(xdf).mark_rule(color="black", strokeWidth=0.8).encode(
            x=QX("v", xs), y=alt.value(P(b)), y2=alt.value(P(b + 2.5))),
        alt.Chart(xdf).mark_text(fontSize=5.5, baseline="middle", color="#4D4D4D").encode(
            x=QX("v", xs), y=alt.value(P(b + 6)), text="lab:N"),
        alt.Chart(ydf).mark_rule(color="black", strokeWidth=0.8).encode(
            y=QY("v", ys), x=alt.value(P(l - 2.5)), x2=alt.value(P(l))),
        alt.Chart(ydf).mark_text(fontSize=5.5, baseline="middle", align="right", color="#4D4D4D").encode(
            y=QY("v", ys), x=alt.value(P(l - 3.5)), text="lab:N"),
        label("Risk Threshold", (l + r) / 2, b + 13, 7),
        label("Net Benefit", ytitle_x, (t + b) / 2, 7, angle=270),
    ]
    lg = legend_block(dca_names, dca_names, dca_colors, leg[0], leg[0] + 7, leg[0] + 11, leg[1], 8.45, 3.5,
                      leg_font)
    return [alt.layer(*layers), lg]


# ---------------------------------------------------------------------------
A = forest(A_pvalue, A_hr, A_lo, A_hi, A_ticks, A_tick_labels, 12.6, 284, 392.5,
           {"var": 34, "p": 155, "hr": 262}, 330)
B = forest(B_pvalue, B_hr, B_lo, B_hi, B_ticks, B_tick_labels, 7.3, 685, 784,
           {"var": 441, "p": 561, "hr": 663}, 725)
C = C_panel()
D = D_panel()
Dleg = legend_block(cal_names, cal_names, cal_colors, 723, 744, 752.7, 532.3, 14.7, 1.6, 11)
E = roc_panel(E_labels, [E_risk, E_nomo, E_tmb, E_age, E_stage], 58, 255, 102)
F = roc_panel(F_labels, [F_risk, F_nomo, F_tmb, F_age, F_stage], 325, 524, 102)
G = roc_panel(G_labels, [G_risk, G_nomo, G_tmb, G_age, G_stage], 596, 784.5, 99)
DY = 7  # row of decision curves lifted a little so that its titles fit the page
H = dca_panel(H_curves, [-0.0173, 0.356], [-0.1325, 0.3284], H_xticks, H_yticks,
              55.7, 198, 914 - DY, 1073 - DY, 37, (209, 972 - DY))
I = dca_panel(I_curves, [-0.0433, 0.781], [-0.2746, 0.6383], I_xticks, I_yticks,
              325, 471.7, 914 - DY, 1076 - DY, 304, (482, 970.7 - DY))
J = dca_panel(J_curves, [-0.0387, 0.8405], [-0.2699, 0.6469], J_xticks, J_yticks,
              595.7, 739, 914 - DY, 1076 - DY, 575, (745, 971.7 - DY), leg_font=5.8)

letters = [letter("A", 8, 10), letter("B", 425, 10), letter("C", 8, 333), letter("D", 477, 333),
           letter("E", 8, 658), letter("F", 295, 658), letter("G", 552, 658),
           letter("H", 8, 899 - DY), letter("I", 294, 899 - DY), letter("J", 550, 899 - DY)]

panels = [A, B, C, D, Dleg] + E + F + G + H + I + J + letters

chart = alt.layer(*panels).resolve_scale(
    x="independent", y="independent", color="independent").properties(
    width=777, height=1076, padding=0, autosize=alt.AutoSizeParams(type="none")).configure(
    font=FONT).configure_view(stroke=None)

chart.save("out.html", embed_options={"renderer": "svg", "actions": False})
